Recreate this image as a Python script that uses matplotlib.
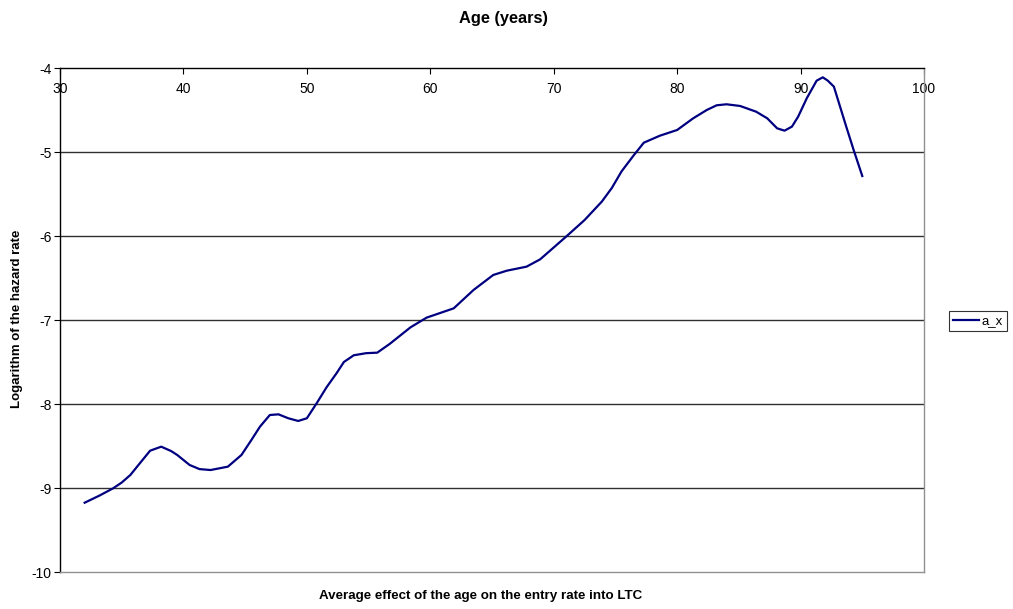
import matplotlib
matplotlib.use('Agg')
import matplotlib.pyplot as plt

plt.rcParams['font.family'] = ['Liberation Sans', 'DejaVu Sans']
plt.rcParams['axes.unicode_minus'] = False

# values
age = [32.0, 33.2, 34.3, 35.0, 35.7, 36.5, 37.3, 38.2, 39.0, 39.5, 40.5, 41.3, 42.2, 43.6, 44.7,
       45.5, 46.2, 47.0, 47.7, 48.5, 49.3, 50.0, 50.8, 51.6, 52.4, 53.0, 53.8, 54.8, 55.7,
       56.7, 58.4, 59.7, 61.9, 63.5, 65.1, 66.2, 67.8, 68.9, 71.0,
       72.5, 73.9, 74.7, 75.5, 76.5, 77.3, 78.6, 80.0, 81.3, 82.4,
       83.2, 84.0, 85.1, 86.4, 87.3, 88.1, 88.7, 89.3, 89.8, 90.5,
       91.3, 91.8, 92.2, 92.7, 93.7, 94.3, 95.0]
a_x = [-9.175, -9.09, -9.004, -8.935, -8.845, -8.70, -8.556, -8.508, -8.56, -8.607, -8.726, -8.775, -8.786, -8.746, -8.607,
       -8.43, -8.270, -8.131, -8.123, -8.17, -8.202, -8.170, -7.990, -7.80, -7.635, -7.50, -7.42, -7.395, -7.389,
       -7.286, -7.087, -6.972, -6.861, -6.643, -6.464, -6.413, -6.365, -6.278, -6.008,
       -5.810, -5.590, -5.430, -5.230, -5.036, -4.889, -4.806, -4.738, -4.599, -4.500,
       -4.444, -4.432, -4.452, -4.520, -4.599, -4.718, -4.746, -4.698, -4.580, -4.361,
       -4.151, -4.111, -4.15, -4.222, -4.698, -4.976, -5.286]

x_ticks = [30, 40, 50, 60, 70, 80, 90, 100]
y_ticks = [-10, -9, -8, -7, -6, -5, -4]

fig = plt.figure(figsize=(10.13, 6.09), dpi=100)
ax = fig.add_axes([60 / 1013, 1 - 572 / 609, 864 / 1013, 504 / 609])

ax.plot(age, a_x, color='#000080', lw=1.6, label='a_x')

ax.set_xlim(30, 100)
ax.set_ylim(-10, -4)
ax.set_xticks(x_ticks)
ax.set_yticks(y_ticks)

# x axis sits on top, labels hang below the line
ax.xaxis.set_ticks_position('top')
ax.tick_params(axis='x', direction='in', length=4, pad=-20, labelsize=10,
               colors='black')
ax.tick_params(axis='y', direction='out', length=4, pad=2, labelsize=10)

for y in y_ticks[1:-1]:
    ax.axhline(y, color='#303030', lw=1.0, zorder=0)

ax.spines['left'].set_color('black')
ax.spines['top'].set_color('black')
ax.spines['right'].set_color('#909090')
ax.spines['bottom'].set_color('#909090')
for s in ax.spines.values():
    s.set_linewidth(1.0)

fig.text(503 / 1013, 1 - 19 / 609, 'Age (years)', ha='center', va='center',
         fontsize=11.8, fontweight='bold')
fig.text(481 / 1013, 1 - 596 / 609,
         'Average effect of the age on the entry rate into LTC',
         ha='center', va='center', fontsize=9.6, fontweight='bold')
fig.text(17 / 1013, 1 - 319 / 609, 'Logarithm of the hazard rate',
         ha='center', va='center', rotation=90, fontsize=9.5, fontweight='bold')

leg = fig.legend(loc='center left', bbox_to_anchor=(949 / 1013, 1 - 321 / 609),
                 fontsize=9.5, frameon=True, fancybox=False, handlelength=2.0,
                 handletextpad=0.15, borderpad=0.3, borderaxespad=0)
leg.get_frame().set_edgecolor('black')
leg.get_frame().set_linewidth(0.8)

fig.savefig('out.png', dpi=100)
